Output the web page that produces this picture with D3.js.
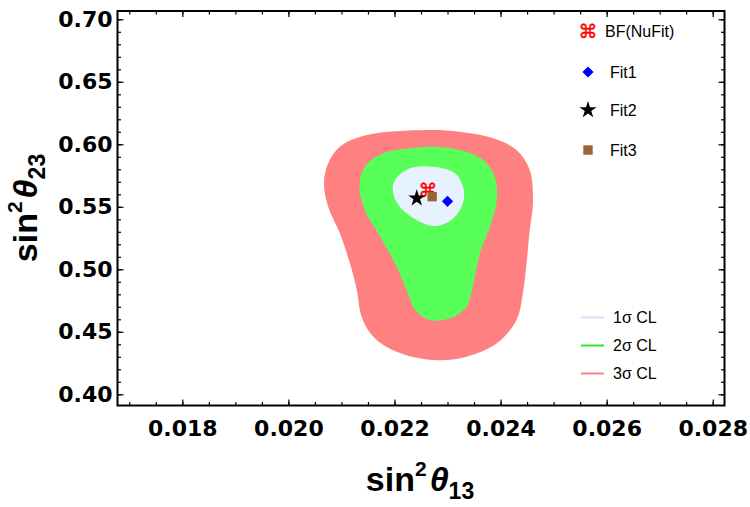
<!DOCTYPE html>
<html>
<head>
<meta charset="utf-8">
<script src="https://cdn.jsdelivr.net/npm/d3@7"></script>
<style>
  body { margin: 0; background: #fff; }
  svg text { font-family: "Liberation Sans", Arial, sans-serif; }
</style>
</head>
<body>
<div id="container"></div>
<script>

/* DATA */
const xTicks = [0.018, 0.020, 0.022, 0.024, 0.026, 0.028];
const yTicks = [0.40, 0.45, 0.50, 0.55, 0.60, 0.65, 0.70];

// 3 sigma boundary (sin^2 theta13, sin^2 theta23)
const cl3 = [
  [0.02261, 0.6114], [0.02323, 0.6101], [0.02386, 0.6048], [0.02430, 0.5954],
  [0.02455, 0.5794], [0.02461, 0.5528], [0.02455, 0.5314], [0.02449, 0.5048],
  [0.02443, 0.4834], [0.02430, 0.4594], [0.02393, 0.4408], [0.02336, 0.4301],
  [0.02273, 0.4274], [0.02204, 0.4341], [0.02160, 0.4461], [0.02138, 0.4621],
  [0.02129, 0.4834], [0.02116, 0.5048], [0.02097, 0.5288], [0.02075, 0.5501],
  [0.02067, 0.5688], [0.02075, 0.5848], [0.02097, 0.5981], [0.02148, 0.6074]
];
// 2 sigma boundary
const cl2 = [
  [0.02273, 0.5981], [0.02323, 0.5954], [0.02367, 0.5874], [0.02389, 0.5741],
  [0.02393, 0.5554], [0.02380, 0.5341], [0.02361, 0.5128], [0.02349, 0.4888],
  [0.02336, 0.4701], [0.02305, 0.4608], [0.02267, 0.4594], [0.02239, 0.4674],
  [0.02223, 0.4834], [0.02204, 0.5021], [0.02173, 0.5261], [0.02144, 0.5474],
  [0.02134, 0.5661], [0.02144, 0.5821], [0.02179, 0.5928], [0.02229, 0.5968]
];
// 1 sigma boundary
const cl1 = [
  [0.02273, 0.5821], [0.02314, 0.5768], [0.02330, 0.5648], [0.02329, 0.5528],
  [0.02311, 0.5408], [0.02280, 0.5346], [0.02248, 0.5381], [0.02210, 0.5501],
  [0.02197, 0.5621], [0.02201, 0.5714], [0.02229, 0.5808]
];

const clNames  = ["1\u03C3 CL", "2\u03C3 CL", "3\u03C3 CL"];
const clColors = ["#e6f2fd", "#58ff58", "#ff8080"];
const clLegend = ["#d2e5f8", "#22ee22", "#ff8080"];

const fitNames = ["BF(NuFit)", "Fit1", "Fit2", "Fit3"];
const fitX     = [0.02263, 0.02300, 0.02242, 0.02271];
const fitY     = [0.5634, 0.5544, 0.5568, 0.5581];

/* CONSTANTS */
const W = 750, H = 507;
const frame = {left: 117.5, right: 724.5, top: 11, bottom: 405.5};

const svg = d3.select("#container")
  .append("svg")
  .attr("width", W)
  .attr("height", H);

// SCALES
const xScale = d3.scaleLinear()
  .domain([0.016778, 0.028222])
  .range([frame.left, frame.right]);

const yScale = d3.scaleLinear()
  .domain([0.39104, 0.70664])
  .range([frame.bottom, frame.top]);

// CONTOURS, outermost first
const area = d3.line()
  .x(d => xScale(d[0]))
  .y(d => yScale(d[1]))
  .curve(d3.curveCatmullRomClosed.alpha(0.5));

[cl3, cl2, cl1].forEach((c, i) => {
  svg.append("path")
    .datum(c)
    .attr("fill", clColors[2 - i])
    .attr("stroke", "none")
    .attr("d", area);
});

// MARKERS
function drawMarker(g, i, x, y) {
  if (i === 0) {
    g.append("text")
      .attr("x", x).attr("y", y)
      .attr("text-anchor", "middle")
      .attr("dy", "0.36em")
      .style("font-family", "DejaVu Sans")
      .style("font-size", "19px")
      .attr("fill", "#ff0000")
      .attr("stroke", "#ff0000")
      .attr("stroke-width", 0.4)
      .text("\u2318");
  } else if (i === 1) {
    g.append("path")
      .attr("transform", `translate(${x},${y})`)
      .attr("d", d3.symbol(d3.symbolDiamond2, 80)())
      .attr("fill", "#0000ff");
  } else if (i === 2) {
    g.append("path")
      .attr("transform", `translate(${x},${y})`)
      .attr("d", d3.symbol(d3.symbolStar, 90)())
      .attr("fill", "#000");
  } else {
    g.append("path")
      .attr("transform", `translate(${x},${y})`)
      .attr("d", d3.symbol(d3.symbolSquare, 88)())
      .attr("fill", "#996633");
  }
}

const marks = svg.append("g");
fitNames.forEach((n, i) => drawMarker(marks, i, xScale(fitX[i]), yScale(fitY[i])));

// AXES (ticks pointing inward on all four sides)
const xMinor = d3.range(0.017, 0.02801, 0.0005);
const yMinor = d3.range(0.40, 0.7001, 0.01);

function frameAxis(axisFn, scale, translate, values, size, labels) {
  const g = svg.append("g")
    .attr("transform", translate)
    .call(axisFn(scale).tickValues(values).tickSize(-size)
      .tickFormat(labels ? d3.format(labels) : ""));
  g.select(".domain").remove();
  g.selectAll(".tick line").attr("stroke", "#000").attr("stroke-width", 1.2);
  return g;
}

frameAxis(d3.axisBottom, xScale, `translate(0,${frame.bottom})`, xMinor, 3.5);
frameAxis(d3.axisTop, xScale, `translate(0,${frame.top})`, xMinor, 3.5);
frameAxis(d3.axisLeft, yScale, `translate(${frame.left},0)`, yMinor, 3.5);
frameAxis(d3.axisRight, yScale, `translate(${frame.right},0)`, yMinor, 3.5);
frameAxis(d3.axisTop, xScale, `translate(0,${frame.top})`, xTicks, 6);
frameAxis(d3.axisRight, yScale, `translate(${frame.right},0)`, yTicks, 6);

const xAx = frameAxis(d3.axisBottom, xScale, `translate(0,${frame.bottom})`, xTicks, 6, ".3f");
xAx.selectAll(".tick text")
  .attr("y", 15)
  .style("font-family", "DejaVu Sans")
  .style("font-weight", "bold")
  .style("font-size", "22px")
  .attr("fill", "#000");

const yAx = frameAxis(d3.axisLeft, yScale, `translate(${frame.left},0)`, yTicks, 6, ".2f");
yAx.selectAll(".tick text")
  .attr("x", -5)
  .style("font-family", "DejaVu Sans")
  .style("font-weight", "bold")
  .style("font-size", "22px")
  .attr("fill", "#000");

// FRAME
svg.append("rect")
  .attr("x", frame.left).attr("y", frame.top)
  .attr("width", frame.right - frame.left)
  .attr("height", frame.bottom - frame.top)
  .attr("fill", "none")
  .attr("stroke", "#000")
  .attr("stroke-width", 2);

// AXIS TITLES
function axisTitle(x, y, rot, sub) {
  const t = svg.append("text")
    .attr("transform", `translate(${x},${y}) rotate(${rot})`)
    .attr("text-anchor", "middle")
    .style("font-weight", "bold")
    .style("font-size", "34px")
    .attr("fill", "#000");
  t.append("tspan").text("sin");
  t.append("tspan").attr("dy", -15).style("font-size", "21px").text("2");
  t.append("tspan").attr("dy", 15).attr("dx", 3)
    .style("font-style", "italic").text("\u03B8");
  t.append("tspan").attr("dy", 8).style("font-size", "23px").text(sub);
}
axisTitle(420, 491, 0, "13");
axisTitle(37, 208, -90, "23");

// LEGEND: points
const legY = [31, 72, 110, 150];
const legTx = [605, 610, 610, 610];
const leg = svg.append("g");
fitNames.forEach((n, i) => {
  drawMarker(leg, i, 588, legY[i]);
  leg.append("text")
    .attr("x", legTx[i]).attr("y", legY[i])
    .attr("dy", "0.36em")
    .style("font-size", "16px")
    .attr("fill", "#000")
    .text(n);
});

// LEGEND: confidence levels
const clY = [317.5, 345.5, 373.5];
clNames.forEach((n, i) => {
  leg.append("line")
    .attr("x1", 581).attr("x2", 604)
    .attr("y1", clY[i]).attr("y2", clY[i])
    .attr("stroke", clLegend[i])
    .attr("stroke-width", 2);
  leg.append("text")
    .attr("x", 613).attr("y", clY[i])
    .attr("dy", "0.36em")
    .style("font-size", "16px")
    .attr("fill", "#000")
    .text(n);
});

</script>
</body>
</html>
